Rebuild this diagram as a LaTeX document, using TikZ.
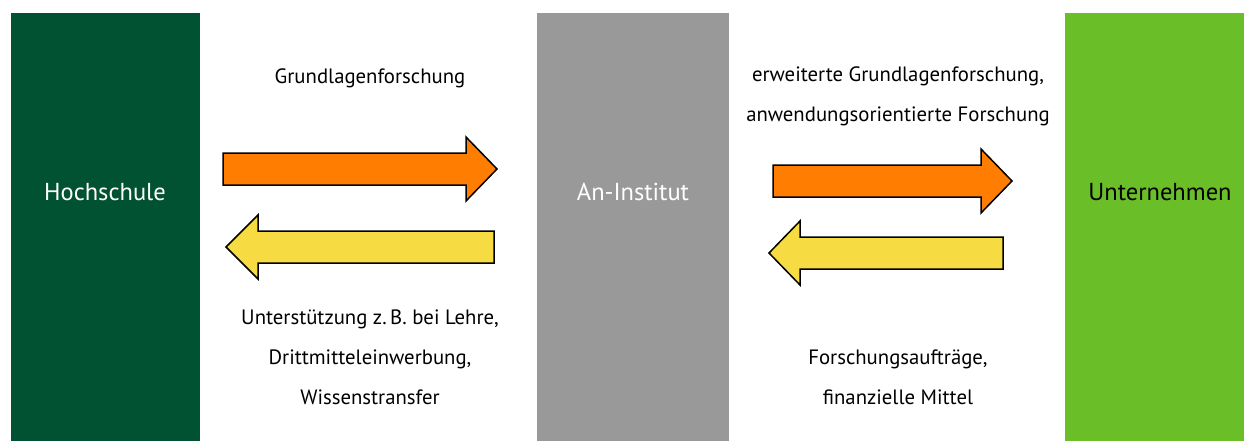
\documentclass[tikz,border=0pt]{standalone}
\usepackage{fontspec}
\setmainfont{PT Sans}
\usetikzlibrary{positioning}

\definecolor{hsgreen}{HTML}{005232}
\definecolor{instgray}{HTML}{999999}
\definecolor{firmgreen}{HTML}{6ABE28}
\definecolor{arroworange}{HTML}{FF7D00}
\definecolor{arrowyellow}{HTML}{F6DC42}

\tikzset{
  boxlabel/.style={font=\fontsize{24.5}{28}\selectfont},
  flowtext/.style={font=\fontsize{20.75}{40}\selectfont, align=center},
  fwdarrow/.style={draw, line width=1.5pt, fill=arroworange},
  backarrow/.style={draw, line width=1.5pt, fill=arrowyellow},
}

\begin{document}
\begin{tikzpicture}[x=1pt,y=-1pt]
\useasboundingbox (0,0) rectangle (1244,441);

% the three columns
\fill [hsgreen] (11,13) rectangle (200,441);
\fill [instgray] (537,13) rectangle (729,441);
\fill [firmgreen] (1065,13) rectangle (1244,441);

\node [boxlabel,text=white] (hs) at (105,192) {Hochschule};
\node [boxlabel,text=white] (inst) at (633,192) {An-Institut};
\node [boxlabel] (firm) at (1160,192) {Unternehmen};

% Hochschule <-> An-Institut
\draw [fwdarrow] (223,153) -- (466,153) -- (466,137) -- (497,169)
  -- (466,201) -- (466,185) -- (223,185) -- cycle;
\draw [backarrow] (494,231) -- (258,231) -- (258,215) -- (226,247)
  -- (258,279) -- (258,263) -- (494,263) -- cycle;

\node [flowtext] (basic) at (370,78) {Grundlagenforschung};
\node [flowtext] (support) at (370,357)
  {Unterstützung z.\,B. bei Lehre,\\Drittmitteleinwerbung,\\Wissenstransfer};

% An-Institut <-> Unternehmen
\draw [fwdarrow] (773,165) -- (981,165) -- (981,149) -- (1012,181)
  -- (981,213) -- (981,197) -- (773,197) -- cycle;
\draw [backarrow] (1003,237) -- (800,237) -- (800,221) -- (769,253)
  -- (800,285) -- (800,269) -- (1003,269) -- cycle;

\node [flowtext] (applied) at (898,96)
  {erweiterte Grundlagenforschung,\\anwendungsorientierte Forschung};
\node [flowtext] (orders) at (898,377)
  {Forschungsaufträge,\\finanzielle Mittel};
\end{tikzpicture}
\end{document}
